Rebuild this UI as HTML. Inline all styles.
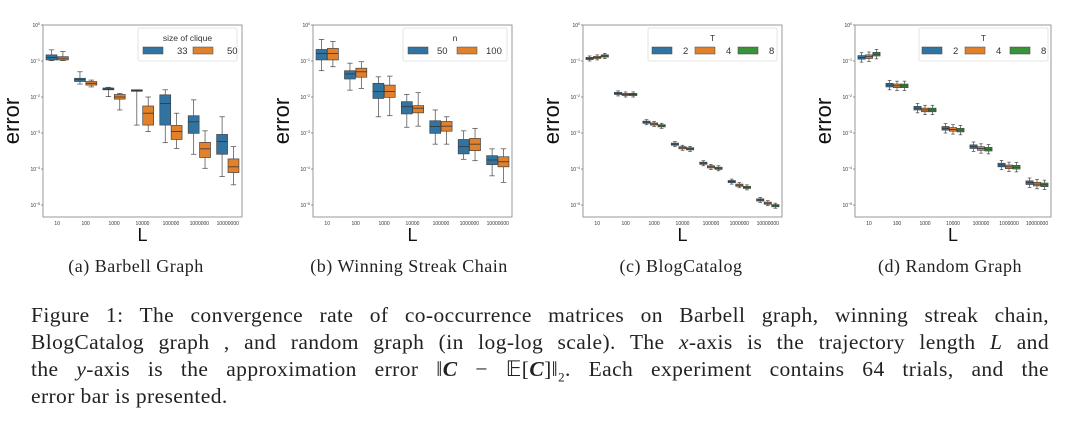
<!DOCTYPE html>
<html><head><meta charset="utf-8">
<style>
html,body{margin:0;padding:0;background:#fff;}
body{width:1080px;height:429px;overflow:hidden;position:relative;font-family:"Liberation Serif",serif;}
svg{position:absolute;left:0;top:0;}
.cap{position:absolute;top:256px;font-size:18px;letter-spacing:0.5px;color:#222;white-space:nowrap;transform:translateX(-50%);}
.para{position:absolute;left:31px;width:1018px;font-size:21.5px;letter-spacing:0.4px;color:#222;line-height:27px;top:302px;}
.ln{text-align:justify;text-align-last:justify;white-space:nowrap;height:27px;}
.ln.last{text-align-last:left;}
</style></head><body>
<svg id="fig" width="1080" height="250" xmlns="http://www.w3.org/2000/svg" font-family="Liberation Sans, sans-serif"></svg>
<div class="cap" style="left:136px">(a) Barbell Graph</div>
<div class="cap" style="left:409px">(b) Winning Streak Chain</div>
<div class="cap" style="left:681px">(c) BlogCatalog</div>
<div class="cap" style="left:950px">(d) Random Graph</div>
<div class="para">
<div class="ln">Figure 1: The convergence rate of co-occurrence matrices on Barbell graph, winning streak chain,</div>
<div class="ln">BlogCatalog graph , and random graph (in log-log scale). The <i>x</i>-axis is the trajectory length <i>L</i> and</div>
<div class="ln">the <i>y</i>-axis is the approximation error ‖<b><i>C</i></b> − 𝔼[<b><i>C</i></b>]‖<sub style="font-size:13px">2</sub>. Each experiment contains 64 trials, and the</div>
<div class="ln last">error bar is presented.</div>
</div>
<script>
// categories & tick labels
const categories = ["10","100","1000","10000","100000","1000000","10000000"];
const yTickLabels = ["0","-1","-2","-3","-4","-5"];
const yTickValues = [0,-1,-2,-3,-4,-5];
// each box: [whislo, q1, median, q3, whishi] in log10(error)
const aBlue = [[-0.99,-0.97,-0.9,-0.83,-0.69],[-1.64,-1.57,-1.52,-1.48,-1.30],[-1.99,-1.80,-1.78,-1.75,-1.73],[-2.78,-1.84,-1.82,-1.80,-1.80],[-3.27,-2.78,-2.18,-1.94,-1.80],[-3.59,-3.01,-2.69,-2.52,-2.08],[-4.21,-3.59,-3.24,-3.04,-2.55]];
const aOrange = [[-0.99,-0.97,-0.92,-0.88,-0.74],[-1.72,-1.67,-1.62,-1.57,-1.53],[-2.36,-2.06,-2.0,-1.93,-1.90],[-2.96,-2.78,-2.45,-2.25,-2.0],[-3.43,-3.18,-2.96,-2.79,-2.45],[-3.98,-3.68,-3.44,-3.26,-2.94],[-4.44,-4.10,-3.94,-3.72,-3.38]];
const bBlue = [[-1.27,-0.97,-0.79,-0.68,-0.40],[-1.81,-1.50,-1.36,-1.27,-1.06],[-2.55,-2.04,-1.85,-1.62,-1.44],[-2.84,-2.47,-2.27,-2.13,-1.93],[-3.31,-3.01,-2.82,-2.66,-2.36],[-3.73,-3.58,-3.38,-3.18,-2.94],[-4.19,-3.88,-3.75,-3.63,-3.44]];
const bOrange = [[-1.16,-0.97,-0.79,-0.65,-0.46],[-1.76,-1.45,-1.30,-1.20,-1.02],[-2.52,-2.01,-1.85,-1.67,-1.42],[-2.81,-2.44,-2.31,-2.24,-1.88],[-3.31,-2.95,-2.81,-2.68,-2.55],[-3.77,-3.49,-3.31,-3.15,-2.87],[-4.37,-3.94,-3.80,-3.66,-3.44]];
const cT2 = [-0.93,-1.90,-2.70,-3.31,-3.84,-4.35,-4.86];
const cT4 = [-0.90,-1.93,-2.75,-3.41,-3.94,-4.45,-4.95];
const cT8 = [-0.86,-1.93,-2.80,-3.44,-3.98,-4.51,-5.02];
const dT2 = [-0.90,-1.67,-2.31,-2.87,-3.38,-3.89,-4.38];
const dT4 = [-0.88,-1.69,-2.36,-2.90,-3.43,-3.94,-4.42];
const dT8 = [-0.81,-1.69,-2.36,-2.92,-3.45,-3.95,-4.44];

const COL = {blue:"#3274a1", orange:"#e1812c", green:"#3a923a"};
const NS = "http://www.w3.org/2000/svg";
const svg = document.getElementById("fig");
function mk(tag, attrs, parent){const e=document.createElementNS(NS,tag);for(const k in attrs)e.setAttribute(k,attrs[k]);(parent||svg).appendChild(e);return e;}
function spread(arr, half, wh){return arr.map(m=>[m-wh,m-half,m,m+half,m+wh]);}

const TOP=25, BOT=217, DEC=36;
function yScale(v){return TOP - v*DEC;}

function panel(id, L, R, series, legend){
  const g = mk("g",{});
  
  
  const cw = (R-L)/categories.length;
  function xScale(i){return L + cw*(i+0.5);}
  const fr = mk("rect",{x:L,y:TOP,width:R-L,height:BOT-TOP,fill:"none",stroke:"#999","stroke-width":1},g);
  
  
  yTickValues.forEach((v,i)=>{
    const t = mk("text",{x:L-3,y:yScale(v)+2,"font-size":5,"text-anchor":"end",fill:"#333"},g);
    
    
    t.textContent = "10";
    const s = mk("tspan",{"font-size":3.5,dy:-2},t); s.textContent = yTickLabels[i]==="0"?"0":"−"+yTickLabels[i].slice(1);
    mk("line",{x1:L-2,x2:L,y1:yScale(v),y2:yScale(v),stroke:"#555","stroke-width":0.6},g);
  });
  categories.forEach((c,i)=>{
    const t = mk("text",{x:xScale(i),y:BOT+8,"font-size":5,"text-anchor":"middle",fill:"#333"},g);
    
    
    t.textContent = c;
  });
  const yl = mk("text",{x:0,y:0,"font-size":22,"text-anchor":"middle",fill:"#111",transform:`translate(${L-24},${(TOP+BOT)/2}) rotate(-90)`},g);
  
  
  yl.textContent = "error";
  const xl = mk("text",{x:(L+R)/2,y:BOT+24,"font-size":18,"text-anchor":"middle",fill:"#111"},g);
  
  
  xl.textContent = "L";
  const n = series.length, bw = cw*0.8/n;
  series.forEach((s,si)=>{
    s.data.forEach((b,i)=>{
      const cx = L + cw*i + cw*0.1 + bw*(si+0.5);
      const w = bw*0.96;
      const [lo,q1,md,q3,hi] = b;
      mk("line",{x1:cx,x2:cx,y1:yScale(hi),y2:yScale(q3),stroke:"#444","stroke-width":0.7},g);
      mk("line",{x1:cx,x2:cx,y1:yScale(q1),y2:yScale(lo),stroke:"#444","stroke-width":0.7},g);
      mk("line",{x1:cx-w/4,x2:cx+w/4,y1:yScale(hi),y2:yScale(hi),stroke:"#444","stroke-width":0.7},g);
      mk("line",{x1:cx-w/4,x2:cx+w/4,y1:yScale(lo),y2:yScale(lo),stroke:"#444","stroke-width":0.7},g);
      const r = mk("rect",{x:cx-w/2,y:yScale(q3),width:w,height:Math.max(1.5,yScale(q1)-yScale(q3)),fill:s.color,stroke:"#444","stroke-width":0.7},g);
      
      
      mk("line",{x1:cx-w/2,x2:cx+w/2,y1:yScale(md),y2:yScale(md),stroke:"#333","stroke-width":0.8},g);
    });
  });
  const lg = mk("g",{},g);
  
  
  mk("rect",{x:legend.x,y:28,width:legend.w,height:33,fill:"#fff",stroke:"#ddd","stroke-width":0.8,rx:2},lg);
  const tt = mk("text",{x:legend.x+legend.w/2,y:41,"font-size":8.5,"text-anchor":"middle",fill:"#333"},lg);
  
  
  tt.textContent = legend.title;
  series.forEach((s,si)=>{
    const px = legend.px[si];
    const p = mk("rect",{x:px,y:47,width:20,height:7,fill:s.color,stroke:"#444","stroke-width":0.5},lg);
    
    
    const t = mk("text",{x:px+legend.gap,y:54,"font-size":9.5,"text-anchor":"start",fill:"#333"},lg);
    t.textContent = s.name;
  });
}

panel("a",43,242,[{name:"33",color:COL.blue,data:aBlue},{name:"50",color:COL.orange,data:aOrange}],
  {x:138,w:99,title:"size of clique",px:[143,193],gap:34});
panel("b",313,512,[{name:"50",color:COL.blue,data:bBlue},{name:"100",color:COL.orange,data:bOrange}],
  {x:403,w:104,title:"n",px:[408,457],gap:29});
panel("c",583,782,[{name:"2",color:COL.blue,data:spread(cT2,0.03,0.07)},{name:"4",color:COL.orange,data:spread(cT4,0.03,0.07)},{name:"8",color:COL.green,data:spread(cT8,0.03,0.07)}],
  {x:648,w:129,title:"T",px:[652,695,738],gap:31});
panel("d",855,1051,[{name:"2",color:COL.blue,data:spread(dT2,0.05,0.13)},{name:"4",color:COL.orange,data:spread(dT4,0.05,0.13)},{name:"8",color:COL.green,data:spread(dT8,0.05,0.13)}],
  {x:919,w:129,title:"T",px:[922,965,1010],gap:31});
</script>
</body></html>
